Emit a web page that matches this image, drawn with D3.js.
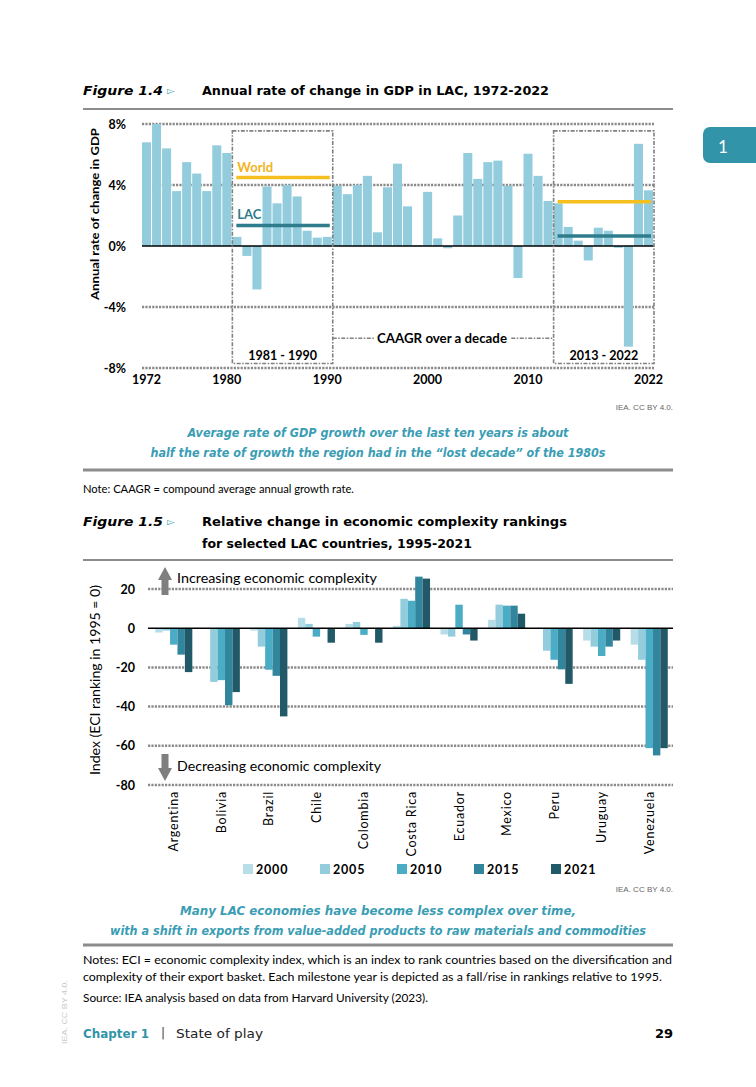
<!DOCTYPE html>
<html>
<head>
<meta charset="utf-8">
<script src="https://cdn.jsdelivr.net/npm/d3@7"></script>
<style>
  body { margin: 0; background: #fff; }
  svg { display: block; }
</style>
</head>
<body>
<svg id="page"></svg>
<script>
// ---------- Figure 1.4 data ----------
const gdpYears = [
  1972, 1973, 1974, 1975, 1976, 1977, 1978, 1979, 1980, 1981, 1982, 1983, 1984,
  1985, 1986, 1987, 1988, 1989, 1990, 1991, 1992, 1993, 1994, 1995, 1996, 1997,
  1998, 1999, 2000, 2001, 2002, 2003, 2004, 2005, 2006, 2007, 2008, 2009, 2010,
  2011, 2012, 2013, 2014, 2015, 2016, 2017, 2018, 2019, 2020, 2021, 2022,
];
const gdpGrowth = [
  6.8, 8.0, 6.4, 3.6, 5.5, 4.75, 3.6, 6.6, 6.1, 0.6, -0.65, -2.85, 3.9,
  2.8, 4.0, 3.25, 1.0, 0.55, 0.6, 3.95, 3.4, 4.0, 4.6, 0.9, 3.85, 5.4,
  2.6, 0.05, 3.55, 0.5, -0.15, 2.0, 6.1, 4.4, 5.5, 5.6, 3.95, -2.1, 6.05,
  4.6, 2.95, 2.8, 1.25, 0.35, -0.95, 1.2, 1.0, -0.12, -6.6, 6.7, 3.65,
];
const gdpTickYears = [1972, 1980, 1990, 2000, 2010, 2022];
const gdpTicks = [-8, -4, 0, 4, 8];
const gdpGrid = [-8, -4, 4, 8];

const decadeLabels = ["1981 - 1990", "2013 - 2022"];
const decadeStart = [1981, 2013];
const decadeEnd = [1990, 2022];
const worldCaagr = [4.5, 2.9];
const lacCaagr = [1.35, 0.65];

// ---------- Figure 1.5 data ----------
const countries = [
  "Argentina", "Bolivia", "Brazil", "Chile", "Colombia", "Costa Rica",
  "Ecuador", "Mexico", "Peru", "Uruguay", "Venezuela",
];
const eciYears = ["2000", "2005", "2010", "2015", "2021"];
const eci2000 = [-2.2, 0, -1.2, 5.3, 2.2, 1.2, -3.2, 4.3, 0, -6.3, -8.4];
const eci2005 = [-1.2, -27.4, -9.4, 2.2, 3.2, 15.0, -4.3, 12.0, -11.5, -9.4, -16.1];
const eci2010 = [-8.4, -26.5, -21.2, -4.3, -3.4, 14.0, 12.0, 11.5, -16.1, -14.2, -61.2];
const eci2015 = [-13.5, -39.3, -24.3, 0, 0, 26.3, -3.2, 11.5, -21.0, -9.4, -64.9];
const eci2021 = [-22.4, -32.6, -45.0, -7.4, -7.4, 25.3, -6.3, 7.4, -28.4, -6.3, -61.2];
const eciTicks = [-80, -60, -40, -20, 0, 20];
const eciGrid = [-80, -60, -40, -20, 20];
const eciColors = ["#b7dee8", "#93cddd", "#4bacc6", "#31859c", "#215968"];

// ---------- page ----------
const W = 756, H = 1087;
const svg = d3.select("#page").attr("width", W).attr("height", H);

const headFont = "'DejaVu Sans', sans-serif";
const bodyFont = "Lato, 'Open Sans', sans-serif";
const teal = "#3a9db4";
const ruleGrey = "#8c8c8c";

// plain hyphen for negative tick labels, like the source
const hyphen = (d) => (d < 0 ? "-" + Math.abs(d) : "" + d);

// small helper for page text
function txt(x, y, s, o) {
  const t = svg.append("text")
    .attr("x", x).attr("y", y)
    .style("font-family", o.font || bodyFont)
    .style("font-size", (o.size || 11) + "px")
    .style("font-weight", o.weight || "normal")
    .style("font-style", o.style || "normal")
    .style("fill", o.fill || "#000")
    .attr("text-anchor", o.anchor || "start")
    .text(s);
  if (o.len) t.attr("textLength", o.len).attr("lengthAdjust", "spacingAndGlyphs");
  return t;
}

function rule(y, w) {
  svg.append("line")
    .attr("x1", 83).attr("x2", 673).attr("y1", y).attr("y2", y)
    .style("stroke", ruleGrey).style("stroke-width", w);
}

// chapter tab
svg.append("rect")
  .attr("x", 703).attr("y", 127).attr("width", 70).attr("height", 36)
  .attr("rx", 7).style("fill", "#3194a8");
txt(723, 153, "1", { size: 17, fill: "#fff", anchor: "middle" });

// Figure 1.4 header
txt(83, 95, "Figure 1.4", { font: headFont, size: 13, weight: "bold", style: "italic", len: 80 });
txt(167, 94, "\u25BB", { font: headFont, size: 10, fill: teal });
txt(202, 95, "Annual rate of change in GDP in LAC, 1972-2022", { font: headFont, size: 12, weight: "bold", len: 347 });
rule(109, 2);

// ---------- Figure 1.4 chart ----------
const x = d3.scaleBand().domain(gdpYears).range([142, 653]).paddingInner(0.1);
const y = d3.scaleLinear().domain([-8, 8]).range([368, 124]);

svg.append("g")
  .selectAll("line")
  .data(gdpGrid)
  .enter()
  .append("line")
  .attr("x1", 142).attr("x2", 654)
  .attr("y1", (d) => y(d)).attr("y2", (d) => y(d))
  .style("stroke", "#8a8a8a").style("stroke-width", 2.5)
  .style("stroke-dasharray", "2.2 1.2");

svg.append("g")
  .selectAll("rect")
  .data(gdpYears)
  .enter()
  .append("rect")
  .attr("x", (d) => x(d))
  .attr("width", x.bandwidth())
  .attr("y", (d, i) => y(Math.max(0, gdpGrowth[i])))
  .attr("height", (d, i) => Math.abs(y(gdpGrowth[i]) - y(0)))
  .style("fill", "#93cddd");

svg.append("line")
  .attr("x1", 142).attr("x2", 654).attr("y1", y(0)).attr("y2", y(0))
  .style("stroke", "#000").style("stroke-width", 1.5);

// decade boxes
const boxTop = y(7.55), boxBottom = y(-7.7);
decadeLabels.forEach((lab, i) => {
  const x0 = x(decadeStart[i]), x1 = x(decadeEnd[i]) + x.step();
  svg.append("rect")
    .attr("x", x0).attr("y", boxTop)
    .attr("width", x1 - x0).attr("height", boxBottom - boxTop)
    .style("fill", "none").style("stroke", "#808080")
    .style("stroke-width", 1.6).style("stroke-dasharray", "4 1.5 1.5 1.5");
  svg.append("line")
    .attr("x1", x0 + 4).attr("x2", x1 - 3)
    .attr("y1", y(worldCaagr[i])).attr("y2", y(worldCaagr[i]))
    .style("stroke", "#f5c01f").style("stroke-width", 3.5);
  svg.append("line")
    .attr("x1", x0 + 4).attr("x2", x1 - 3)
    .attr("y1", y(lacCaagr[i])).attr("y2", y(lacCaagr[i]))
    .style("stroke", "#2e7c8c").style("stroke-width", 3.5);
  txt((x0 + x1) / 2, 360, lab, { size: 12.5, weight: "bold", anchor: "middle" });
});
txt(x(1981) + 5, y(worldCaagr[0]) - 5, "World", { size: 13, weight: "bold", fill: "#f0b41c" });
txt(x(1981) + 5, y(lacCaagr[0]) - 6, "LAC", { size: 13, weight: "bold", fill: "#2e7c8c" });

// CAAGR connector between boxes
const cx0 = x(1990) + x.step(), cx1 = x(2013);
svg.append("line")
  .attr("x1", cx0).attr("x2", cx1).attr("y1", y(-6.05)).attr("y2", y(-6.05))
  .style("stroke", "#808080").style("stroke-width", 1.4)
  .style("stroke-dasharray", "4 1.5 1.5 1.5");
svg.append("rect")
  .attr("x", 374).attr("y", y(-6.05) - 8).attr("width", 137).attr("height", 16)
  .style("fill", "#fff");
txt(442, y(-6.05) + 4.5, "CAAGR over a decade", { size: 12.5, weight: "bold", anchor: "middle", len: 130 });

// axes
const xAxis = d3.axisBottom(x).tickValues(gdpTickYears).tickSize(0).tickPadding(7);
svg.append("g")
  .attr("transform", `translate(0, ${y(-8)})`)
  .call(xAxis)
  .call((g) => g.select(".domain").remove())
  .selectAll("text")
  .style("font-family", bodyFont).style("font-size", "12.5px")
  .style("font-weight", "bold").style("fill", "#000");

const yAxis = d3.axisLeft(y).tickValues(gdpTicks).tickFormat((d) => hyphen(d) + "%").tickSize(0).tickPadding(16);
svg.append("g")
  .attr("transform", "translate(142, 0)")
  .call(yAxis)
  .call((g) => g.select(".domain").remove())
  .selectAll("text")
  .style("font-family", bodyFont).style("font-size", "12.5px")
  .style("font-weight", "bold").style("fill", "#000");

txt(0, 0, "Annual rate of change in GDP", { size: 12, weight: "bold", anchor: "middle", len: 172 })
  .attr("x", null).attr("y", null)
  .attr("transform", "translate(99, 214) rotate(-90)");

txt(673, 410, "IEA. CC BY 4.0.", { font: "'Liberation Sans', sans-serif", size: 8, fill: "#666", anchor: "end" });
txt(378, 437, "Average rate of GDP growth over the last ten years is about", { font: headFont, size: 12.5, weight: "bold", style: "italic", fill: teal, anchor: "middle", len: 381 });
txt(378, 457, "half the rate of growth the region had in the \u201Clost decade\u201D of the 1980s", { font: headFont, size: 12.5, weight: "bold", style: "italic", fill: teal, anchor: "middle", len: 455 });
rule(470, 3);
txt(83, 493, "Note: CAAGR = compound average annual growth rate.", { size: 10.5, len: 271 });

// Figure 1.5 header
txt(83, 526, "Figure 1.5", { font: headFont, size: 13, weight: "bold", style: "italic", len: 80 });
txt(167, 525, "\u25BB", { font: headFont, size: 10, fill: teal });
txt(202, 526, "Relative change in economic complexity rankings", { font: headFont, size: 12, weight: "bold", len: 365 });
txt(202, 548, "for selected LAC countries, 1995-2021", { font: headFont, size: 12, weight: "bold", len: 270 });
rule(560, 2);

// ---------- Figure 1.5 chart ----------
const eciSeries = [eci2000, eci2005, eci2010, eci2015, eci2021];
const eciRows = countries.map((c, i) => ({
  country: c,
  values: eciYears.map((yr, j) => ({ year: yr, value: eciSeries[j][i] })),
}));

const x0 = d3.scaleBand().domain(countries).range([150, 673]).paddingInner(0.22).paddingOuter(0.11);
const x1 = d3.scaleBand().domain(eciYears).range([0, x0.bandwidth()]);
const yE = d3.scaleLinear().domain([-80, 20]).range([785, 589]);
const colorE = d3.scaleOrdinal().domain(eciYears).range(eciColors);

svg.append("g")
  .selectAll("line")
  .data(eciGrid)
  .enter()
  .append("line")
  .attr("x1", 148).attr("x2", 673)
  .attr("y1", (d) => yE(d)).attr("y2", (d) => yE(d))
  .style("stroke", "#8a8a8a").style("stroke-width", 2.5)
  .style("stroke-dasharray", "2.2 1.2");

svg.append("g")
  .selectAll("g")
  .data(eciRows)
  .enter()
  .append("g")
  .attr("transform", (d) => `translate(${x0(d.country)}, 0)`)
  .selectAll("rect")
  .data((d) => d.values)
  .enter()
  .append("rect")
  .attr("x", (d) => x1(d.year))
  .attr("width", x1.bandwidth())
  .attr("y", (d) => yE(Math.max(0, d.value)))
  .attr("height", (d) => Math.abs(yE(d.value) - yE(0)))
  .style("fill", (d) => colorE(d.year));

svg.append("line")
  .attr("x1", 148).attr("x2", 673).attr("y1", yE(0)).attr("y2", yE(0))
  .style("stroke", "#000").style("stroke-width", 1.5);

const yAxisE = d3.axisLeft(yE).tickValues(eciTicks).tickFormat(hyphen).tickSize(0).tickPadding(13);
svg.append("g")
  .attr("transform", "translate(148, 0)")
  .call(yAxisE)
  .call((g) => g.select(".domain").remove())
  .selectAll("text")
  .style("font-family", bodyFont).style("font-size", "12.5px")
  .style("font-weight", "bold").style("fill", "#000");

// country labels, rotated
svg.append("g")
  .selectAll("text")
  .data(countries)
  .enter()
  .append("text")
  .attr("transform", (d) => `translate(${x0(d) + x0.bandwidth() / 2 + 4.5}, 791) rotate(-90)`)
  .attr("text-anchor", "end")
  .style("font-family", bodyFont).style("font-size", "12.5px")
  .style("letter-spacing", "0.8px")
  .text((d) => d);

txt(0, 0, "Index (ECI ranking in 1995 = 0)", { size: 13, anchor: "middle", len: 190 })
  .attr("x", null).attr("y", null)
  .attr("transform", "translate(100, 680) rotate(-90)");

// direction arrows
svg.append("path")
  .attr("d", "M158,580 L165,567 L172,580 L168.5,580 L168.5,595 L161.5,595 L161.5,580 Z")
  .style("fill", "#7f7f7f");
txt(177, 583, "Increasing economic complexity", { size: 13, len: 200 });
svg.append("path")
  .attr("d", "M161.5,754 L168.5,754 L168.5,768 L172,768 L165,781 L158,768 L161.5,768 Z")
  .style("fill", "#7f7f7f");
txt(177, 771, "Decreasing economic complexity", { size: 13, len: 204 });

// legend
const legend = svg.append("g")
  .selectAll("g")
  .data(eciYears)
  .enter()
  .append("g")
  .attr("transform", (d, i) => `translate(${243 + i * 77}, 864)`);
legend.append("rect")
  .attr("width", 10).attr("height", 10)
  .style("fill", (d) => colorE(d));
legend.append("text")
  .attr("x", 13).attr("y", 9.5)
  .style("font-family", bodyFont).style("font-size", "12.5px")
  .style("font-weight", "bold").style("letter-spacing", "0.8px")
  .text((d) => d);

txt(673, 892, "IEA. CC BY 4.0.", { font: "'Liberation Sans', sans-serif", size: 8, fill: "#666", anchor: "end" });
txt(378, 915, "Many LAC economies have become less complex over time,", { font: headFont, size: 12.5, weight: "bold", style: "italic", fill: teal, anchor: "middle", len: 396 });
txt(378, 935, "with a shift in exports from value-added products to raw materials and commodities", { font: headFont, size: 12.5, weight: "bold", style: "italic", fill: teal, anchor: "middle", len: 536 });
rule(945, 3);
txt(83, 964, "Notes: ECI = economic complexity index, which is an index to rank countries based on the diversification and", { size: 10.5, len: 589 });
txt(83, 981, "complexity of their export basket. Each milestone year is depicted as a fall/rise in rankings relative to 1995.", { size: 10.5, len: 579 });
txt(83, 1002, "Source: IEA analysis based on data from Harvard University (2023).", { size: 10.5, len: 345 });

// footer
txt(83, 1038, "Chapter 1", { font: headFont, size: 13, weight: "bold", fill: "#3194a8", len: 66 });
txt(163, 1037, "|", { font: headFont, size: 12, fill: "#444", anchor: "middle" });
txt(176, 1038, "State of play", { font: headFont, size: 13, fill: "#222", len: 87 });
txt(673, 1038, "29", { font: headFont, size: 13, weight: "bold", anchor: "end" });
txt(0, 0, "IEA. CC BY 4.0.", { font: "'Liberation Sans', sans-serif", size: 8, fill: "#c8c8c8", anchor: "middle", len: 64 })
  .attr("x", null).attr("y", null)
  .attr("transform", "translate(67, 1012) rotate(-90)");
</script>
</body>
</html>
